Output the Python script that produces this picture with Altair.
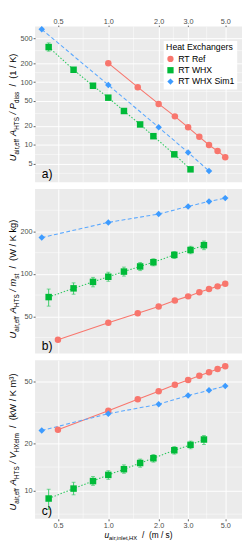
import altair as alt
import pandas as pd

FONT = "Liberation Sans"
series_names = ["RT Ref", "RT WHX", "RT WHX Sim1"]
series_colors = ["#F8766D", "#00BA38", "#3D9BFF"]
series_shapes = ["circle", "square", "diamond"]

ref_x = [0.5, 1.0, 1.5, 2.0, 2.5, 3.0, 3.5, 4.0, 4.5, 5.0]
whx_x = [0.44, 0.62, 0.81, 1.0, 1.24, 1.55, 1.86, 2.48, 3.1, 3.73]
sim_x = [0.4, 1.0, 2.0, 3.0, 4.0, 5.0]

# panel a) U A / P_diss  (1/K)
ref_a = [None, 200, 83, 45, 28.5, 19.1, 13.5, 10.0, 8.0, 6.4]
whx_a = [360, 157, 87.5, 56.5, 34.7, 21.2, 13.8, 7.1, 4.1, None]
whx_a_lo = [310, 148, 83, 54, 33.3, 20.4, 13.3, 6.8, 3.9, None]
whx_a_hi = [420, 166, 92, 59, 36.2, 22.0, 14.3, 7.4, 4.3, None]
sim_a = [690, 90, 19.1, 7.6, 3.85, None]

# panel b) U A / m_st  (W / K kg)
ref_b = [34.0, 44.9, 52.6, 58.7, 64.6, 69.2, 74.1, 78.0, 81.5, 85.0]
whx_b = [68.4, 78.9, 87.7, 95.4, 103.8, 112.9, 120.9, 136.4, 147.7, 159.8]
whx_b_lo = [59.0, 71.7, 80.9, 88.6, 96.4, 105.5, 114.0, 128.5, 139.0, 148.5]
whx_b_hi = [78.0, 86.3, 94.4, 102.7, 111.7, 120.5, 128.0, 144.0, 157.0, 171.0]
sim_b = [181, 232, 266, 301, 327, 345]

# panel c) U A / V_HXelm  (kW / K m3)
ref_c = [24.5, 32.4, 38.3, 43.1, 47.4, 50.9, 54.1, 57.0, 59.8, 62.3]
whx_c = [8.9, 10.3, 11.5, 12.6, 13.7, 15.0, 16.1, 18.1, 19.6, 21.2]
whx_c_lo = [7.6, 9.4, 10.8, 11.8, 12.9, 14.1, 15.2, 17.1, 18.5, 19.7]
whx_c_hi = [10.2, 11.3, 12.3, 13.4, 14.6, 15.9, 17.0, 19.1, 20.7, 22.5]
sim_c = [24.2, 31.0, 35.6, 40.5, 43.7, 46.5]

x_domain = [0.365, 6.3]
x_ticks = [0.5, 1.0, 2.0, 3.0, 5.0]
x_minor = [0.707, 1.414, 2.449, 3.873]

ya_domain = [2.55, 762]
ya_ticks = [5, 10, 20, 50, 100, 200, 500]
ya_minor = [3.54, 7.07, 14.14, 31.62, 70.71, 141.4, 316.2]
yb_domain = [27.2, 400]
yb_ticks = [50, 100, 200]
yb_minor = [35.36, 70.71, 141.4, 282.8]
yc_domain = [6.6, 68]
yc_ticks = [10, 20, 50]
yc_minor = [7.07, 14.14, 31.62]

W = 214
HA, HB, HC = 161, 170, 164

AW = {' ': 278, '\u00a0': 278, 'a': 556, 'i': 222, 'r': 333, ',': 278, 'e': 556, 'f': 278,
      'H': 722, 'T': 611, 'S': 667, 'd': 556, 's': 500, '(': 333, ')': 333, '1': 556,
      '/': 278, 'K': 667, 'U': 722, 'A': 667, 'P': 667, 'W': 944, 'k': 500, 'g': 556,
      'm': 833, 't': 278, 'V': 667, 'X': 667, 'l': 222, 'n': 556, '\u00b3': 333,
      'u': 556, 'o': 556, 'x': 500}
WS = ' \u00a0'


def tw(s, fs):
    return sum(AW.get(c, 556) for c in s) * fs / 1000.0


ONE = pd.DataFrame({"k": [0]})


def ytitle(pieces, cx, cy, fs=9.6, sfs=6.6, shift=2.6):
    total = sum(tw(t, sfs if sub else fs) for t, sub, it in pieces)
    y0 = cy + total / 2
    out = []
    cum = 0
    for t, sub, it in pieces:
        f = sfs if sub else fs
        lead = tw(t[:len(t) - len(t.lstrip(WS))], f)
        out.append(alt.Chart(ONE).mark_text(
            text=t.strip(WS), angle=270, align="left", baseline="alphabetic", fontSize=f,
            fontStyle="italic" if it else "normal", color="black", font=FONT
        ).encode(x=alt.value(cx + (shift if sub else 0)), y=alt.value(y0 - cum - lead)))
        cum += tw(t, f)
    return out


def xtitle(pieces, cx, y, fs=8.6, sfs=6.0, shift=2.2):
    total = sum(tw(t, sfs if sub else fs) for t, sub, it in pieces)
    x0 = cx - total / 2
    out = []
    cum = 0
    for t, sub, it in pieces:
        f = sfs if sub else fs
        lead = tw(t[:len(t) - len(t.lstrip(WS))], f)
        out.append(alt.Chart(ONE).mark_text(
            text=t.strip(WS), align="left", baseline="alphabetic", fontSize=f,
            fontStyle="italic" if it else "normal", color="black", font=FONT
        ).encode(x=alt.value(x0 + cum + lead), y=alt.value(y + (shift if sub else 0))))
        cum += tw(t, f)
    return out


def rows(xs, ys, name, lo=None, hi=None):
    d = []
    for i, (a, b) in enumerate(zip(xs, ys)):
        if b is None:
            continue
        r = {"x": a, "y": b, "series": name}
        if lo is not None:
            r["lo"] = lo[i]
            r["hi"] = hi[i]
        d.append(r)
    return pd.DataFrame(d)


def panel(ref_y, whx_y, whx_lo, whx_hi, sim_y, ydom, yticks, yminor, letter,
          tpieces, toff, xpos, show_legend, H):
    xs = alt.Scale(type="log", domain=x_domain, nice=False)
    ys = alt.Scale(type="log", domain=ydom, nice=False)
    if xpos == "top":
        xaxis = alt.Axis(orient="top", values=x_ticks, format=".1f", title=None,
                         labelPadding=0, tickSize=1.5)
    elif xpos == "bottom":
        xaxis = alt.Axis(orient="bottom", values=x_ticks, format=".1f", title=None)
    else:
        xaxis = alt.Axis(values=x_ticks, labels=False, ticks=False, title=None)
    yaxis = alt.Axis(values=yticks, format="~g", title=None)
    X = alt.X("x:Q", scale=xs, axis=xaxis)
    Y = alt.Y("y:Q", scale=ys, axis=yaxis)

    d_ref = rows(ref_x, ref_y, series_names[0])
    d_whx = rows(whx_x, whx_y, series_names[1], whx_lo, whx_hi)
    d_sim = rows(sim_x, sim_y, series_names[2])
    d_all = pd.concat([d_ref, d_whx, d_sim], ignore_index=True)

    layers = []
    layers.append(alt.Chart(pd.DataFrame({"x": x_minor})).mark_rule(
        color="white", strokeWidth=0.5).encode(x=X))
    layers.append(alt.Chart(pd.DataFrame({"y": yminor})).mark_rule(
        color="white", strokeWidth=0.5).encode(y=Y))
    layers.append(alt.Chart(d_ref).mark_line(color=series_colors[0], strokeWidth=1.1).encode(x=X, y=Y))
    layers.append(alt.Chart(d_whx).mark_line(color="#2DC85F", strokeWidth=1.1,
                                             strokeDash=[1.5, 1.8]).encode(x=X, y=Y))
    layers.append(alt.Chart(d_sim).mark_line(color="#5AA8FF", strokeWidth=1.1,
                                             strokeDash=[4, 2.5]).encode(x=X, y=Y))
    layers.append(alt.Chart(d_whx).mark_rule(color="#3CCB6A", strokeWidth=1).encode(
        x=X, y=alt.Y("lo:Q", scale=ys, axis=yaxis), y2="hi:Q"))
    layers.append(alt.Chart(d_whx).mark_tick(color="#3CCB6A", orient="horizontal",
                                             size=4, thickness=1).encode(
        x=X, y=alt.Y("lo:Q", scale=ys, axis=yaxis)))
    layers.append(alt.Chart(d_whx).mark_tick(color="#3CCB6A", orient="horizontal",
                                             size=4, thickness=1).encode(
        x=X, y=alt.Y("hi:Q", scale=ys, axis=yaxis)))

    if show_legend:
        leg = alt.Legend(orient="none", legendX=133, legendY=15, title="Heat Exchangers",
                         fillColor="white", padding=2.5, titleFontSize=9,
                         labelFontSize=9, titleFontWeight="normal", titleColor="black",
                         labelColor="black", symbolSize=42, rowPadding=1.7, titlePadding=2.4,
                         titleFont=FONT, labelFont=FONT, labelOffset=3.5)
    else:
        leg = None
    color = alt.Color("series:N", scale=alt.Scale(domain=series_names, range=series_colors),
                      legend=leg)
    shape = alt.Shape("series:N", scale=alt.Scale(domain=series_names, range=series_shapes),
                      legend=leg)
    layers.append(alt.Chart(d_all).mark_point(filled=True, opacity=1, size=45).encode(
        x=X, y=Y, color=color, shape=shape))

    layers.append(alt.Chart(ONE).mark_text(text=letter, align="left", baseline="alphabetic",
                                           fontSize=12.5, color="black", font=FONT).encode(
        x=alt.value(7), y=alt.value(H - 4)))
    layers += ytitle(tpieces, -19.5, H / 2 + toff)
    if xpos == "bottom":
        layers += xtitle([("u", 0, 1), ("air,inlet,HX", 1, 0),
                          ("\u00a0\u00a0/\u00a0\u00a0(m\u00a0/\u00a0s)", 0, 0)],
                         W / 2, H + 20)
    return alt.layer(*layers).properties(width=W, height=H)


NB = "\u00a0"
tail = NB + NB + "/" + NB + NB
pa_t = [("U", 0, 1), ("air,eff", 1, 0), (NB + "A", 0, 1), ("HTS", 1, 0),
        (NB + "/" + NB + "P", 0, 1), ("diss", 1, 0), (tail + "(1" + NB + "/" + NB + "K)", 0, 0)]
pb_t = [("U", 0, 1), ("air,eff", 1, 0), (NB + "A", 0, 1), ("HTS", 1, 0),
        (NB + "/" + NB + "m", 0, 1), ("st", 1, 0),
        (tail + "(W" + NB + "/" + NB + "K" + NB + "kg)", 0, 0)]
pc_t = [("U", 0, 1), ("air,eff", 1, 0), (NB + "A", 0, 1), ("HTS", 1, 0),
        (NB + "/" + NB + "V", 0, 1), ("HXelm", 1, 0),
        (tail + "(kW" + NB + "/" + NB + "K" + NB + "m\u00b3)", 0, 0)]

pa = panel(ref_a, whx_a, whx_a_lo, whx_a_hi, sim_a, ya_domain, ya_ticks, ya_minor, "a)",
           pa_t, 3, "top", True, HA)
pb = panel(ref_b, whx_b, whx_b_lo, whx_b_hi, sim_b, yb_domain, yb_ticks, yb_minor, "b)",
           pb_t, 8, "none", False, HB)
pc = panel(ref_c, whx_c, whx_c_lo, whx_c_hi, sim_c, yc_domain, yc_ticks, yc_minor, "c)",
           pc_t, 2.5, "bottom", False, HC)

chart = alt.vconcat(pa, pb, pc, spacing=5).properties(
    padding={"left": 0, "top": 0, "right": 0, "bottom": 0}
).configure(font=FONT).configure_view(fill="#EBEBEB", stroke=None).configure_axis(
    gridColor="white", gridWidth=1, domain=False, tickColor="#333333", tickSize=2,
    tickWidth=0.8, labelColor="#4D4D4D", labelFontSize=7.5, labelPadding=1, labelFont=FONT
)

chart.save("out.html", embed_options={"renderer": "svg", "actions": False})
